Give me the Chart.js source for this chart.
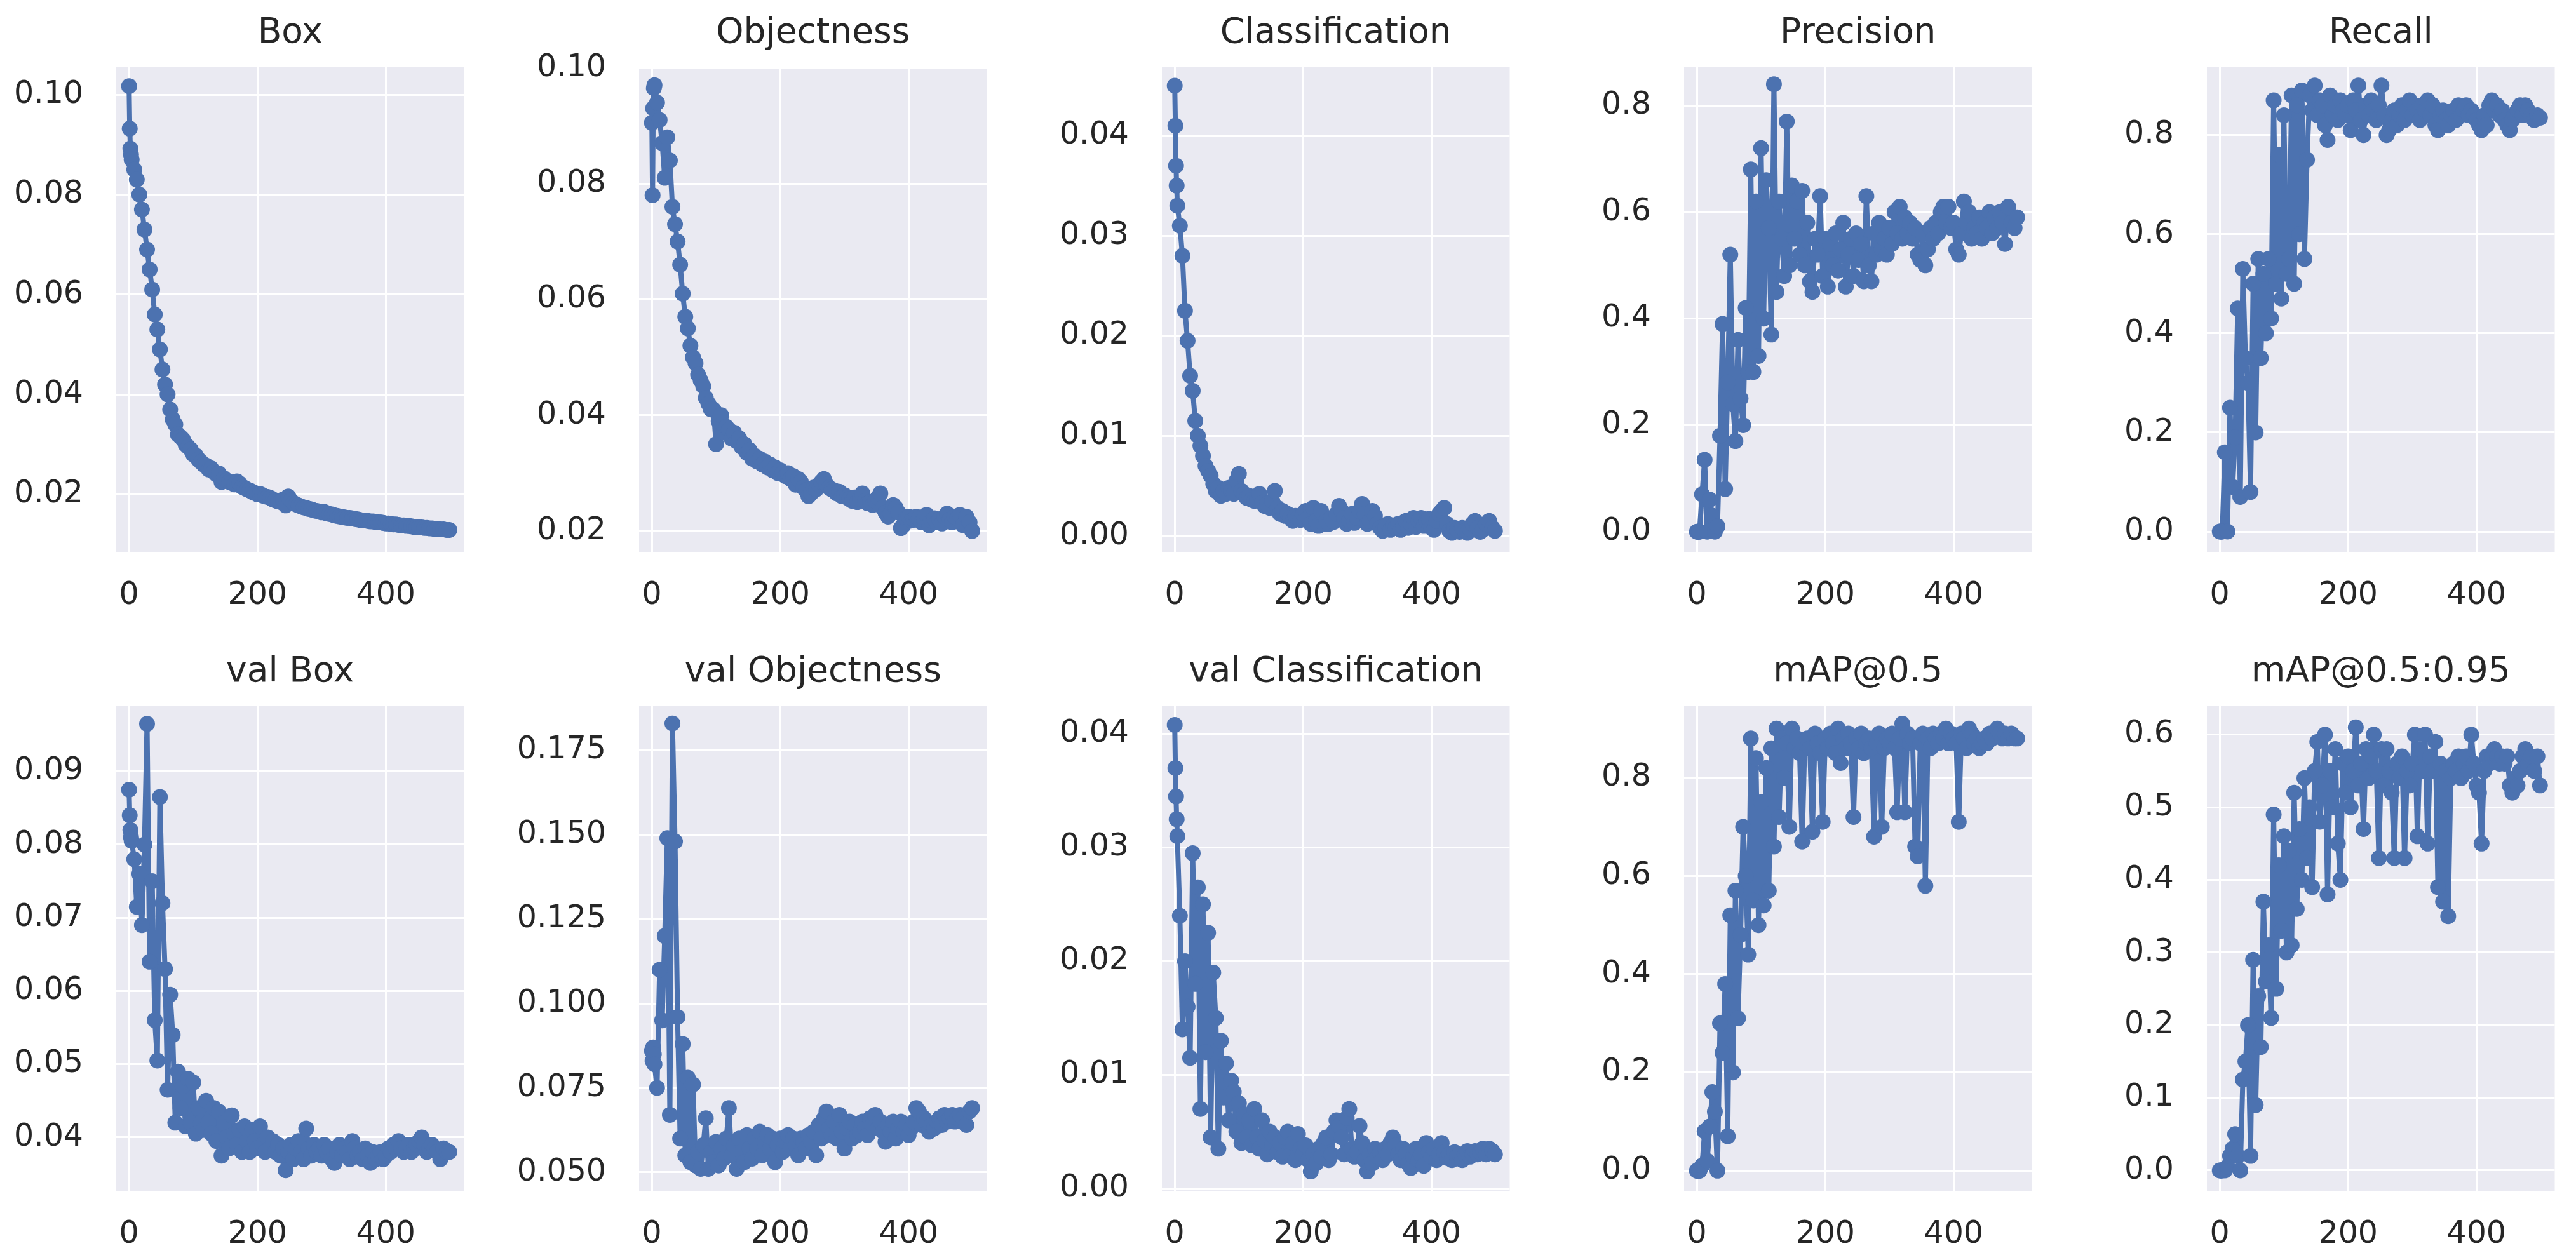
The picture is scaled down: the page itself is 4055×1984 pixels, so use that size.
<!DOCTYPE html>
<html>
<head>
<meta charset="utf-8">
<script src="https://cdn.jsdelivr.net/npm/chart.js@4.4.1/dist/chart.umd.min.js"></script>
<style>
  html, body { margin: 0; padding: 0; background: #fff; }
  #page { position: relative; width: 4055px; height: 1984px; overflow: hidden; }
  #page canvas { position: absolute; }
</style>
</head>
<body>
<div id="page"></div>
<script>
// epochs sampled from the training log
const epochs = [0, 1, 2, 3,
  4, 8, 12, 16, 20, 24, 28, 32, 36, 40,
  44, 48, 52, 56, 60, 64, 68, 72, 76, 80,
  84, 88, 92, 96, 100, 104, 108, 112, 116, 120,
  124, 128, 132, 136, 140, 144, 148, 152, 156, 160,
  164, 168, 172, 176, 180, 184, 188, 192, 196, 200,
  204, 208, 212, 216, 220, 224, 228, 232, 236, 240,
  244, 248, 252, 256, 260, 264, 268, 272, 276, 280,
  284, 288, 292, 296, 300, 304, 308, 312, 316, 320,
  324, 328, 332, 336, 340, 344, 348, 352, 356, 360,
  364, 368, 372, 376, 380, 384, 388, 392, 396, 400,
  404, 408, 412, 416, 420, 424, 428, 432, 436, 440,
  444, 448, 452, 456, 460, 464, 468, 472, 476, 480,
  485, 490, 495, 499]

const trainBox = [0.1017, 0.0932, 0.0892, 0.0880,
  0.0870, 0.0850, 0.0830, 0.0800, 0.0770, 0.0730, 0.0690, 0.0650, 0.0610, 0.0560,
  0.0530, 0.0490, 0.0450, 0.0420, 0.0400, 0.0370, 0.0350, 0.0340, 0.0320, 0.0315,
  0.0310, 0.0300, 0.0295, 0.0290, 0.0280, 0.0278, 0.0270, 0.0265, 0.0260, 0.0258,
  0.0250, 0.0252, 0.0245, 0.0240, 0.0242, 0.0225, 0.0232, 0.0228, 0.0225, 0.0224,
  0.0220, 0.0226, 0.0222, 0.0215, 0.0213, 0.0210, 0.0208, 0.0205, 0.0203, 0.0200,
  0.0201, 0.0198, 0.0196, 0.0195, 0.0193, 0.0190, 0.0188, 0.0186, 0.0185, 0.0190,
  0.0178, 0.0196, 0.0188, 0.0183, 0.0180, 0.0178, 0.0176, 0.0174, 0.0173, 0.0171,
  0.0170, 0.0168, 0.0167, 0.0166, 0.0164, 0.0165, 0.0162, 0.0161, 0.0160, 0.0158,
  0.0157, 0.0156, 0.0155, 0.0154, 0.0153, 0.0153, 0.0152, 0.0151, 0.0150, 0.0149,
  0.0148, 0.0148, 0.0147, 0.0146, 0.0146, 0.0145, 0.0144, 0.0144, 0.0143, 0.0142,
  0.0142, 0.0141, 0.0140, 0.0140, 0.0139, 0.0138, 0.0138, 0.0137, 0.0137, 0.0136,
  0.0135, 0.0135, 0.0134, 0.0134, 0.0133, 0.0133, 0.0132, 0.0132, 0.0131, 0.0131,
  0.0130, 0.0130, 0.0129, 0.0129]

const trainObj = [0.0905, 0.0780, 0.0930, 0.0965,
  0.0970, 0.0940, 0.0910, 0.0870, 0.0810, 0.0880, 0.0840, 0.0760, 0.0730, 0.0700,
  0.0660, 0.0610, 0.0570, 0.0550, 0.0520, 0.0500, 0.0490, 0.0470, 0.0460, 0.0450,
  0.0430, 0.0420, 0.0410, 0.0410, 0.0350, 0.0390, 0.0400, 0.0370, 0.0380, 0.0375,
  0.0360, 0.0370, 0.0355, 0.0360, 0.0345, 0.0350, 0.0335, 0.0340, 0.0325, 0.0330,
  0.0320, 0.0325, 0.0315, 0.0320, 0.0310, 0.0315, 0.0305, 0.0310, 0.0300, 0.0305,
  0.0300, 0.0295, 0.0300, 0.0290, 0.0295, 0.0280, 0.0290, 0.0285, 0.0275, 0.0270,
  0.0260, 0.0265, 0.0275, 0.0272, 0.0280, 0.0285, 0.0290, 0.0280, 0.0275, 0.0272,
  0.0270, 0.0265, 0.0268, 0.0260, 0.0262, 0.0258, 0.0255, 0.0252, 0.0258, 0.0250,
  0.0255, 0.0265, 0.0252, 0.0248, 0.0250, 0.0245, 0.0252, 0.0258, 0.0265, 0.0240,
  0.0232, 0.0225, 0.0230, 0.0245, 0.0240, 0.0232, 0.0205, 0.0210, 0.0222, 0.0225,
  0.0218, 0.0220, 0.0225, 0.0222, 0.0215, 0.0220, 0.0228, 0.0210, 0.0218, 0.0222,
  0.0215, 0.0220, 0.0213, 0.0225, 0.0230, 0.0220, 0.0215, 0.0225, 0.0222, 0.0228,
  0.0210, 0.0225, 0.0215, 0.0200]

const trainCls = [0.0450, 0.0410, 0.0370, 0.0350,
  0.0330, 0.0310, 0.0280, 0.0225, 0.0195, 0.0160, 0.0145, 0.0115, 0.0100, 0.0090,
  0.0080, 0.0070, 0.0065, 0.0060, 0.0052, 0.0045, 0.0048, 0.0040, 0.0045, 0.0042,
  0.0048, 0.0045, 0.0042, 0.0055, 0.0062, 0.0045, 0.0042, 0.0038, 0.0040, 0.0036,
  0.0035, 0.0038, 0.0042, 0.0033, 0.0030, 0.0032, 0.0028, 0.0035, 0.0045, 0.0028,
  0.0022, 0.0025, 0.0020, 0.0022, 0.0018, 0.0015, 0.0020, 0.0018, 0.0016, 0.0022,
  0.0025, 0.0018, 0.0012, 0.0028, 0.0015, 0.0010, 0.0025, 0.0012, 0.0015, 0.0012,
  0.0018, 0.0014, 0.0022, 0.0030, 0.0025, 0.0018, 0.0012, 0.0015, 0.0022, 0.0013,
  0.0018, 0.0025, 0.0032, 0.0022, 0.0012, 0.0015, 0.0025, 0.0020, 0.0012, 0.0008,
  0.0005, 0.0008, 0.0012, 0.0006, 0.0010, 0.0008, 0.0012, 0.0006, 0.0009, 0.0015,
  0.0008, 0.0012, 0.0018, 0.0009, 0.0015, 0.0018, 0.0010, 0.0015, 0.0017, 0.0008,
  0.0006, 0.0015, 0.0022, 0.0025, 0.0028, 0.0012, 0.0005, 0.0003, 0.0008, 0.0006,
  0.0004, 0.0008, 0.0005, 0.0003, 0.0007, 0.0012, 0.0015, 0.0008, 0.0004, 0.0006,
  0.0012, 0.0015, 0.0008, 0.0005]

const precision = [0.00, 0.00, 0.00, 0.00,
  0.00, 0.07, 0.135, 0.00, 0.06, 0.03, 0.00, 0.01, 0.18, 0.39,
  0.08, 0.28, 0.52, 0.24, 0.17, 0.36, 0.25, 0.20, 0.42, 0.30,
  0.68, 0.30, 0.62, 0.33, 0.72, 0.40, 0.66, 0.57, 0.37, 0.84,
  0.45, 0.62, 0.55, 0.48, 0.77, 0.50, 0.65, 0.55, 0.62, 0.52,
  0.64, 0.50, 0.58, 0.47, 0.45, 0.55, 0.52, 0.63, 0.48, 0.55,
  0.46, 0.54, 0.50, 0.56, 0.49, 0.53, 0.58, 0.46, 0.52, 0.55,
  0.48, 0.56, 0.51, 0.54, 0.47, 0.63, 0.50, 0.47, 0.56, 0.52,
  0.58, 0.53, 0.55, 0.52, 0.57, 0.54, 0.60, 0.56, 0.61, 0.55,
  0.59, 0.56, 0.58, 0.55, 0.57, 0.52, 0.51, 0.56, 0.50, 0.53,
  0.57, 0.55, 0.58, 0.56, 0.60, 0.61, 0.58, 0.61, 0.57, 0.58,
  0.53, 0.52, 0.56, 0.62, 0.58, 0.60, 0.55, 0.57, 0.56, 0.59,
  0.55, 0.58, 0.57, 0.60, 0.56, 0.59, 0.57, 0.60, 0.58, 0.54,
  0.61, 0.58, 0.57, 0.59]

const recall = [0.00, 0.00, 0.00, 0.00,
  0.00, 0.16, 0.00, 0.25, 0.09, 0.19, 0.45, 0.07, 0.53, 0.35,
  0.30, 0.08, 0.50, 0.20, 0.55, 0.35, 0.52, 0.40, 0.55, 0.43,
  0.87, 0.50, 0.76, 0.47, 0.84, 0.52, 0.55, 0.88, 0.50, 0.86,
  0.60, 0.89, 0.55, 0.75, 0.88, 0.85, 0.90, 0.84, 0.87, 0.86,
  0.82, 0.79, 0.88, 0.84, 0.86, 0.83, 0.87, 0.85, 0.84, 0.86,
  0.81, 0.87, 0.85, 0.90, 0.83, 0.80, 0.86, 0.84, 0.87, 0.85,
  0.83, 0.86, 0.90, 0.84, 0.80, 0.81, 0.83, 0.85, 0.82, 0.84,
  0.86, 0.83, 0.85, 0.87, 0.84, 0.86, 0.85, 0.83, 0.86, 0.85,
  0.87, 0.84, 0.86, 0.82, 0.81, 0.84, 0.85, 0.83, 0.82, 0.84,
  0.85, 0.83, 0.86, 0.84, 0.85, 0.86, 0.84, 0.85, 0.84, 0.83,
  0.82, 0.81, 0.84, 0.82, 0.86, 0.87, 0.85, 0.86, 0.84, 0.85,
  0.83, 0.82, 0.81, 0.83, 0.84, 0.85, 0.86, 0.84, 0.86, 0.85,
  0.84, 0.83, 0.84, 0.835]

const valBox = [0.0875, 0.0840, 0.0820, 0.0810,
  0.0805, 0.0780, 0.0715, 0.0760, 0.0690, 0.0800, 0.0965, 0.0640, 0.0750, 0.0560,
  0.0505, 0.0865, 0.0720, 0.0630, 0.0465, 0.0595, 0.0540, 0.0420, 0.0490, 0.0440,
  0.0470, 0.0415, 0.0480, 0.0420, 0.0475, 0.0405, 0.0440, 0.0420, 0.0410, 0.0450,
  0.0420, 0.0405, 0.0440, 0.0395, 0.0435, 0.0375, 0.0420, 0.0400, 0.0385, 0.0430,
  0.0405, 0.0390, 0.0410, 0.0380, 0.0415, 0.0395, 0.0380, 0.0410, 0.0395, 0.0385,
  0.0415, 0.0390, 0.0380, 0.0400, 0.0385, 0.0395, 0.0380, 0.0390, 0.0375, 0.0385,
  0.0355, 0.0380, 0.0390, 0.0370, 0.0385, 0.0395, 0.0380, 0.0370, 0.0412, 0.0385,
  0.0375, 0.0390, 0.0380, 0.0385, 0.0375, 0.0390, 0.0380, 0.0385, 0.0370, 0.0365,
  0.0380, 0.0390, 0.0375, 0.0385, 0.0380, 0.0370, 0.0395, 0.0385, 0.0375, 0.0380,
  0.0370, 0.0385, 0.0375, 0.0365, 0.0380, 0.0370, 0.0375, 0.0380, 0.0370, 0.0375,
  0.0385, 0.0380, 0.0390, 0.0385, 0.0395, 0.0385, 0.0380, 0.0385, 0.0390, 0.0380,
  0.0385, 0.0390, 0.0395, 0.0400, 0.0390, 0.0380, 0.0385, 0.0390, 0.0385, 0.0380,
  0.0370, 0.0385, 0.0380, 0.0380]

const valObj = [0.0860, 0.0830, 0.0870, 0.0850,
  0.0820, 0.0750, 0.1100, 0.0950, 0.1200, 0.1490, 0.0670, 0.1830, 0.1480, 0.0960,
  0.0600, 0.0880, 0.0550, 0.0780, 0.0530, 0.0760, 0.0520, 0.0560, 0.0510, 0.0580,
  0.0660, 0.0510, 0.0560, 0.0530, 0.0590, 0.0520, 0.0570, 0.0540, 0.0600, 0.0690,
  0.0550, 0.0580, 0.0510, 0.0600, 0.0560, 0.0530, 0.0610, 0.0570, 0.0540, 0.0600,
  0.0570, 0.0620, 0.0550, 0.0590, 0.0610, 0.0570, 0.0600, 0.0530, 0.0580, 0.0600,
  0.0560, 0.0590, 0.0610, 0.0570, 0.0600, 0.0580, 0.0550, 0.0600, 0.0590, 0.0570,
  0.0610, 0.0590, 0.0620, 0.0550, 0.0640, 0.0600, 0.0660, 0.0680, 0.0630, 0.0610,
  0.0650, 0.0600, 0.0670, 0.0620, 0.0570, 0.0630, 0.0650, 0.0600, 0.0640, 0.0610,
  0.0620, 0.0650, 0.0630, 0.0610, 0.0660, 0.0640, 0.0670, 0.0630, 0.0650, 0.0620,
  0.0590, 0.0640, 0.0620, 0.0650, 0.0600, 0.0630, 0.0650, 0.0620, 0.0640, 0.0610,
  0.0630, 0.0650, 0.0690, 0.0680, 0.0640, 0.0660, 0.0650, 0.0620, 0.0640, 0.0630,
  0.0650, 0.0660, 0.0640, 0.0670, 0.0650, 0.0660, 0.0670, 0.0650, 0.0660, 0.0670,
  0.0660, 0.0640, 0.0680, 0.0690]

const valCls = [0.0408, 0.0370, 0.0345, 0.0325,
  0.0310, 0.0240, 0.0140, 0.0200, 0.0160, 0.0115, 0.0295, 0.0180, 0.0265, 0.0070,
  0.0250, 0.0120, 0.0225, 0.0045, 0.0190, 0.0150, 0.0035, 0.0130, 0.0080, 0.0110,
  0.0060, 0.0095, 0.0085, 0.0050, 0.0075, 0.0040, 0.0065, 0.0045, 0.0060, 0.0038,
  0.0070, 0.0045, 0.0035, 0.0060, 0.0042, 0.0030, 0.0050, 0.0038, 0.0045, 0.0032,
  0.0040, 0.0028, 0.0045, 0.0050, 0.0030, 0.0040, 0.0025, 0.0048, 0.0035, 0.0030,
  0.0038, 0.0025, 0.0015, 0.0030, 0.0022, 0.0035, 0.0028, 0.0040, 0.0045, 0.0025,
  0.0030, 0.0050, 0.0060, 0.0055, 0.0045, 0.0030, 0.0062, 0.0070, 0.0035, 0.0028,
  0.0032, 0.0055, 0.0040, 0.0025, 0.0015, 0.0030, 0.0022, 0.0035, 0.0028, 0.0032,
  0.0025, 0.0035, 0.0030, 0.0040, 0.0045, 0.0038, 0.0030, 0.0025, 0.0035, 0.0030,
  0.0022, 0.0018, 0.0028, 0.0035, 0.0025, 0.0030, 0.0020, 0.0040, 0.0032, 0.0028,
  0.0035, 0.0025, 0.0030, 0.0040, 0.0032, 0.0027, 0.0030, 0.0025, 0.0032, 0.0028,
  0.0030, 0.0025, 0.0030, 0.0033, 0.0028, 0.0030, 0.0033, 0.0030, 0.0032, 0.0035,
  0.0030, 0.0035, 0.0033, 0.0030]

const map50 = [0.00, 0.00, 0.00, 0.00,
  0.00, 0.01, 0.08, 0.02, 0.09, 0.16, 0.12, 0.00, 0.30, 0.24,
  0.38, 0.07, 0.52, 0.20, 0.57, 0.31, 0.48, 0.70, 0.60, 0.44,
  0.88, 0.55, 0.84, 0.50, 0.75, 0.54, 0.82, 0.57, 0.86, 0.66,
  0.90, 0.72, 0.88, 0.80, 0.87, 0.70, 0.90, 0.86, 0.88, 0.85,
  0.67, 0.87, 0.88, 0.86, 0.69, 0.89, 0.87, 0.85, 0.71, 0.88,
  0.86, 0.89, 0.87, 0.85, 0.90, 0.83, 0.88, 0.86, 0.89, 0.87,
  0.72, 0.88, 0.86, 0.89, 0.85, 0.87, 0.88, 0.86, 0.68, 0.87,
  0.89, 0.70, 0.86, 0.88, 0.87, 0.89, 0.86, 0.73, 0.88, 0.91,
  0.73, 0.89, 0.87, 0.88, 0.66, 0.64, 0.87, 0.89, 0.58, 0.88,
  0.86, 0.89, 0.88, 0.87, 0.89, 0.88, 0.90, 0.87, 0.89, 0.88,
  0.87, 0.71, 0.89, 0.88, 0.86, 0.90, 0.89, 0.87, 0.88, 0.86,
  0.87, 0.88, 0.87, 0.89, 0.88, 0.89, 0.90, 0.89, 0.88, 0.89,
  0.88, 0.89, 0.88, 0.88]

const map5095 = [0.000, 0.000, 0.000, 0.000,
  0.000, 0.000, 0.005, 0.020, 0.030, 0.050, 0.020, 0.000, 0.125, 0.150,
  0.200, 0.020, 0.290, 0.090, 0.240, 0.170, 0.370, 0.260, 0.310, 0.210,
  0.490, 0.250, 0.420, 0.330, 0.460, 0.300, 0.440, 0.310, 0.520, 0.360,
  0.470, 0.400, 0.540, 0.430, 0.500, 0.390, 0.550, 0.590, 0.480, 0.530,
  0.600, 0.380, 0.550, 0.500, 0.580, 0.450, 0.400, 0.560, 0.520, 0.570,
  0.500, 0.550, 0.610, 0.530, 0.560, 0.470, 0.580, 0.540, 0.570, 0.600,
  0.550, 0.430, 0.580, 0.530, 0.580, 0.550, 0.520, 0.430, 0.560, 0.540,
  0.570, 0.430, 0.550, 0.530, 0.560, 0.600, 0.460, 0.580, 0.550, 0.600,
  0.450, 0.570, 0.550, 0.590, 0.390, 0.560, 0.370, 0.550, 0.350, 0.540,
  0.560, 0.550, 0.570, 0.540, 0.560, 0.570, 0.550, 0.600, 0.560, 0.530,
  0.520, 0.450, 0.550, 0.570, 0.560, 0.570, 0.580, 0.570, 0.560, 0.570,
  0.560, 0.570, 0.530, 0.520, 0.540, 0.530, 0.550, 0.570, 0.580, 0.560,
  0.570, 0.550, 0.570, 0.530]

const panels = [
  { title: 'Box', values: trainBox, yMin: 0.0085, yMax: 0.1056, yStep: 0.02, digits: 2 },
  { title: 'Objectness', values: trainObj, yMin: 0.0164, yMax: 0.1002, yStep: 0.02, digits: 2 },
  { title: 'Classification', values: trainCls, yMin: -0.0016, yMax: 0.0469, yStep: 0.01, digits: 2 },
  { title: 'Precision', values: precision, yMin: -0.038, yMax: 0.873, yStep: 0.2, digits: 1 },
  { title: 'Recall', values: recall, yMin: -0.041, yMax: 0.938, yStep: 0.2, digits: 1 },
  { title: 'val Box', values: valBox, yMin: 0.0327, yMax: 0.0990, yStep: 0.01, digits: 2 },
  { title: 'val Objectness', values: valObj, yMin: 0.0445, yMax: 0.1883, yStep: 0.025, digits: 3 },
  { title: 'val Classification', values: valCls, yMin: -0.0002, yMax: 0.0425, yStep: 0.01, digits: 2 },
  { title: 'mAP@0.5', values: map50, yMin: -0.041, yMax: 0.947, yStep: 0.2, digits: 1 },
  { title: 'mAP@0.5:0.95', values: map5095, yMin: -0.028, yMax: 0.640, yStep: 0.1, digits: 1 }
]

// layout of the 2 x 5 grid
const plotLeft = [183, 1006, 1829, 2651, 3474]
const plotTop = [105, 1111]
const plotW = 560, plotH = 764
const axisW = 240, headH = 105, footH = 110
const font = 'DejaVu Sans'
const ink = '#262626'
const blue = '#4C72B0'

const panelStyle = {
  id: 'panelStyle',
  beforeDraw(chart) {
    let a = chart.chartArea
    let ctx = chart.ctx
    ctx.save()
    ctx.fillStyle = '#EAEAF2'
    ctx.fillRect(a.left, a.top, a.right - a.left, a.bottom - a.top)
    ctx.restore()
  },
  afterDraw(chart) {
    let a = chart.chartArea
    let ctx = chart.ctx
    ctx.save()
    ctx.fillStyle = ink
    ctx.font = '55px "' + font + '"'
    ctx.textAlign = 'center'
    ctx.textBaseline = 'middle'
    ctx.fillText(chart.options.panelTitle, (a.left + a.right) / 2, a.top - 52)
    ctx.restore()
  }
}

function createPanel(panel, i) {
  let col = i % 5
  let row = Math.floor(i / 5)
  let canvas = document.createElement('canvas')
  canvas.width = axisW + plotW
  canvas.height = headH + plotH + footH
  canvas.style.left = (plotLeft[col] - axisW) + 'px'
  canvas.style.top = (plotTop[row] - headH) + 'px'
  document.getElementById('page').appendChild(canvas)

  let points = epochs.map((e, k) => ({ x: e, y: panel.values[k] }))

  new Chart(canvas.getContext('2d'), {
    type: 'line',
    data: {
      datasets: [{
        data: points,
        borderColor: blue,
        borderWidth: 8,
        borderJoinStyle: 'round',
        borderCapStyle: 'round',
        backgroundColor: blue,
        pointBackgroundColor: blue,
        pointBorderWidth: 0,
        pointRadius: 12.5,
        tension: 0,
        fill: false
      }]
    },
    plugins: [panelStyle],
    options: {
      panelTitle: panel.title,
      responsive: false,
      animation: false,
      devicePixelRatio: 1,
      layout: { padding: { top: headH, left: 0, right: 0, bottom: 0 } },
      plugins: { legend: { display: false }, tooltip: { enabled: false }, title: { display: false } },
      scales: {
        x: {
          type: 'linear',
          min: -20,
          max: 522,
          grid: { color: '#ffffff', lineWidth: 3, drawTicks: false },
          border: { display: false },
          ticks: {
            stepSize: 200,
            includeBounds: false,
            padding: 40,
            color: ink,
            font: { family: font, size: 49 },
            maxRotation: 0
          },
          afterFit(scale) { scale.height = footH }
        },
        y: {
          min: panel.yMin,
          max: panel.yMax,
          grid: { color: '#ffffff', lineWidth: 3, drawTicks: false },
          border: { display: false },
          ticks: {
            stepSize: panel.yStep,
            includeBounds: false,
            padding: 52,
            color: ink,
            font: { family: font, size: 49 },
            callback: v => v.toFixed(panel.digits)
          },
          afterFit(scale) { scale.width = axisW }
        }
      }
    }
  })
}

panels.forEach(createPanel)
</script>
</body>
</html>
